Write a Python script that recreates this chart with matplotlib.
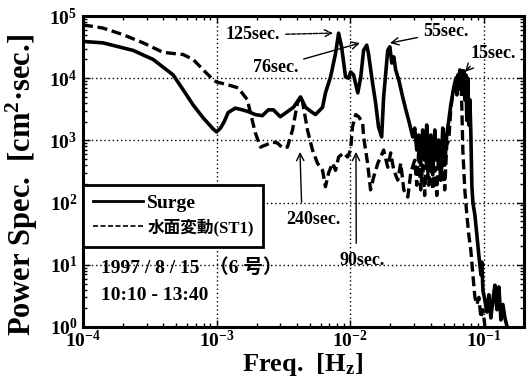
import matplotlib
matplotlib.use("Agg")
import matplotlib.pyplot as plt
from matplotlib.lines import Line2D
import numpy as np

plt.rcParams['font.family'] = ['Liberation Serif', 'Noto Sans CJK JP']
plt.rcParams['font.weight'] = 'bold'
plt.rcParams['axes.labelweight'] = 'bold'
plt.rcParams['mathtext.fontset'] = 'custom'
plt.rcParams['mathtext.rm'] = 'Liberation Serif:bold'
plt.rcParams['mathtext.it'] = 'Liberation Serif:bold:italic'
plt.rcParams['mathtext.bf'] = 'Liberation Serif:bold'
plt.rcParams['mathtext.default'] = 'rm'

# ---- data ----
surge_freq = [1.00e-4, 1.41e-4, 2.37e-4, 3.35e-4, 4.73e-4, 5.62e-4, 6.68e-4, 7.94e-4, 9.44e-4, 1.0e-3,
              1.07e-3, 1.14e-3, 1.22e-3, 1.38e-3, 1.56e-3, 1.73e-3, 1.95e-3, 2.20e-3, 2.44e-3, 2.66e-3,
              3.00e-3, 3.39e-3, 3.76e-3, 4.25e-3, 4.63e-3, 5.22e-3, 5.50e-3, 6.21e-3, 6.53e-3, 7.13e-3,
              7.77e-3, 8.19e-3, 8.62e-3, 9.23e-3, 9.73e-3, 1.007e-2, 1.06e-2, 1.14e-2, 1.20e-2, 1.26e-2,
              1.33e-2, 1.37e-2, 1.47e-2, 1.55e-2, 1.63e-2, 1.72e-2, 1.78e-2, 1.91e-2, 1.98e-2, 2.05e-2,
              2.12e-2, 2.19e-2, 2.31e-2, 2.47e-2, 2.61e-2, 2.74e-2, 2.94e-2, 3.04e-2, 3.15e-2, 3.26e-2,
              3.37e-2, 3.49e-2, 3.61e-2, 3.74e-2, 3.87e-2, 4.01e-2, 4.15e-2, 4.30e-2, 4.45e-2, 4.60e-2,
              4.76e-2, 4.93e-2, 5.10e-2, 5.28e-2, 5.47e-2, 5.66e-2, 5.97e-2, 6.18e-2, 6.29e-2, 6.40e-2,
              6.51e-2, 6.62e-2, 6.73e-2, 6.85e-2, 6.97e-2, 7.09e-2, 7.21e-2, 7.34e-2, 7.47e-2, 7.60e-2,
              7.73e-2, 7.87e-2, 8.00e-2, 8.14e-2, 8.29e-2, 8.58e-2, 8.88e-2, 9.19e-2, 9.52e-2, 9.68e-2,
              9.85e-2, 0.1019, 0.1055, 0.1092, 0.1130, 0.1170, 0.1211, 0.1253, 0.1297, 0.1343,
              0.1390, 0.1439, 0.1489]
surge_power = [3.9e4, 3.7e4, 2.8e4, 2.0e4, 1.13e4, 6.5e3, 3.7e3, 2.3e3, 1.52e3, 1.37e3,
               1.58e3, 2.0e3, 2.8e3, 3.3e3, 3.1e3, 2.9e3, 2.6e3, 2.5e3, 3.1e3, 3.1e3,
               2.4e3, 2.9e3, 3.4e3, 5.0e3, 3.4e3, 2.8e3, 2.6e3, 3.4e3, 5.8e3, 1.05e4,
               2.5e4, 5.3e4, 3.2e4, 1.05e4, 1.0e4, 1.26e4, 1.13e4, 5.8e3, 1.05e4, 2.8e4,
               3.4e4, 2.5e4, 8.4e3, 4.0e3, 1.64e3, 1.14e3, 5.0e3, 2.8e4, 3.2e4, 1.75e4,
               2.2e4, 1.36e4, 9.4e3, 5.0e3, 3.1e3, 2.1e3, 1.14e3, 1.58e3, 7.0e2, 1.22e3,
               4.0e2, 1.47e3, 4.8e2, 1.77e3, 3.3e2, 1.22e3, 2.8e2, 1.47e3, 4.8e2, 1.01e3,
               2.3e2, 1.58e3, 4.0e2, 1.22e3, 2.1e3, 3.7e3, 7.2e3, 1.0e4, 5.4e3, 1.13e4,
               7.8e3, 1.36e4, 6.5e3, 1.31e4, 9.4e3, 1.31e4, 4.5e3, 1.13e4, 2.1e3, 1.0e4,
               1.77e3, 4.5e3, 1.32e3, 1.9e2, 1.0e2, 63, 30, 14, 6.9, 11,
               3.9, 2.7, 1.74, 3.3, 1.4, 2.7, 4.7, 1.9, 4.4, 1.3,
               2.3, 1.4, 1.04]

water_freq = [1.00e-4, 1.41e-4, 2.00e-4, 2.82e-4, 3.98e-4, 5.62e-4, 6.68e-4, 7.94e-4, 9.44e-4, 1.0e-3,
              1.22e-3, 1.45e-3, 1.70e-3, 1.79e-3, 1.95e-3, 2.13e-3, 2.32e-3, 2.62e-3, 2.85e-3, 3.11e-3,
              3.39e-3, 3.70e-3, 4.03e-3, 4.32e-3, 4.47e-3, 4.79e-3, 5.22e-3, 5.69e-3, 6.21e-3, 6.53e-3,
              6.89e-3, 7.38e-3, 7.77e-3, 8.19e-3, 8.92e-3, 9.56e-3, 1.007e-2, 1.04e-2, 1.10e-2, 1.16e-2,
              1.24e-2, 1.26e-2, 1.35e-2, 1.42e-2, 1.50e-2, 1.61e-2, 1.69e-2, 1.78e-2, 1.91e-2, 2.01e-2,
              2.12e-2, 2.27e-2, 2.39e-2, 2.52e-2, 2.70e-2, 2.84e-2, 3.04e-2, 3.15e-2, 3.26e-2, 3.37e-2,
              3.49e-2, 3.61e-2, 3.74e-2, 3.87e-2, 4.01e-2, 4.15e-2, 4.30e-2, 4.45e-2, 4.60e-2, 4.76e-2,
              4.93e-2, 5.10e-2, 5.28e-2, 5.47e-2, 5.66e-2, 5.86e-2, 6.07e-2, 6.29e-2, 6.51e-2, 6.73e-2,
              6.85e-2, 6.97e-2, 7.21e-2, 7.47e-2, 7.73e-2, 8.00e-2, 8.29e-2, 8.58e-2, 8.88e-2, 9.19e-2,
              9.52e-2, 9.85e-2, 0.1019]
water_power = [7.2e4, 6.4e4, 5.0e4, 3.7e4, 2.6e4, 2.4e4, 2.0e4, 1.36e4, 9.4e3, 8.7e3,
               7.8e3, 7.0e3, 4.5e3, 2.8e3, 1.32e3, 7.8e2, 8.4e2, 9.4e2, 9.1e2, 7.6e2,
               7.8e2, 1.47e3, 4.0e3, 5.2e3, 3.4e3, 1.47e3, 7.0e2, 4.3e2, 3.3e2, 1.8e2,
               3.0e2, 4.3e2, 3.3e2, 5.4e2, 6.3e2, 5.4e2, 7.0e2, 1.64e3, 2.6e3, 2.4e3,
               1.9e3, 1.14e3, 4.3e2, 1.6e2, 2.6e2, 4.3e2, 5.4e2, 7.0e2, 3.7e2, 6.3e2,
               3.3e2, 2.3e2, 4.3e2, 1.6e2, 1.23e2, 3.0e2, 4.8e2, 1.9e2, 7.0e2, 1.6e2,
               4.0e2, 1.3e2, 5.8e2, 1.9e2, 4.8e2, 1.6e2, 3.7e2, 1.3e2, 7.0e2, 2.3e2,
               5.4e2, 1.6e2, 8.4e2, 1.01e3, 3.1e3, 5.8e3, 7.8e3, 1.05e4, 6.5e3, 1.21e4,
               3.4e3, 7.0e2, 1.6e2, 63, 30, 17, 6.9, 3.0, 2.3, 3.0,
               1.4, 1.9, 1.04]

series_labels = ['Surge', '水面変動(ST1)']
x_label = 'Freq.  [H$_{z}$]'
y_label = 'Power Spec.  [cm$^{2}$·sec.]'
period_labels = ['125sec.', '76sec.', '55sec.', '15sec.', '240sec.', '90sec.']
date_lines = ['1997 / 8 / 15  （6 号）', '10:10 - 13:40']

# ---- figure ----
fig = plt.figure(figsize=(5.32, 3.78), dpi=100)
ax = fig.add_axes([83/532, 51/378, 441/532, 311/378])

ax.plot(surge_freq, surge_power, color='black', lw=2.6, solid_joinstyle='round')
ax.plot(water_freq, water_power, color='black', lw=2.4, ls=(0, (3, 1.4)))

ax.set_xscale('log')
ax.set_yscale('log')
ax.set_xlim(1e-4, 0.2)
ax.set_ylim(1, 1e5)

ax.grid(which='major', color='black', ls=(0, (1, 2)), lw=1)
for s in ax.spines.values():
    s.set_linewidth(2.2)
ax.tick_params(which='both', direction='in', top=True, right=True, width=1)
ax.tick_params(which='major', length=5, labelsize=14)
ax.tick_params(axis='x', which='major', pad=2)
ax.tick_params(axis='y', which='major', pad=4)
ax.tick_params(which='minor', length=3)

ax.set_xlabel(x_label, fontsize=19)
ax.set_ylabel(y_label, fontsize=22)
ax.xaxis.set_label_coords(0.497, -0.076)
ax.xaxis.label.set_verticalalignment('top')
ax.yaxis.set_label_coords(-0.098, 0.457)

handles = [Line2D([], [], color='black', lw=2),
           Line2D([], [], color='black', lw=1.2, ls=(0, (3, 1.5)))]
leg = ax.legend(handles, series_labels, loc='upper left', bbox_to_anchor=(0.0, 0.457),
                frameon=True, fancybox=False, edgecolor='black', framealpha=1,
                borderaxespad=0, handlelength=2.6, handletextpad=0.2,
                borderpad=0.5, labelspacing=0.35, fontsize=14)
leg.get_frame().set_linewidth(2)
leg.get_texts()[1].set_fontsize(12)

ax.text(0.04, 0.19, date_lines[0], transform=ax.transAxes, fontsize=14, va='center', ha='left')
ax.text(0.04, 0.10, date_lines[1], transform=ax.transAxes, fontsize=14, va='center', ha='left')

ap = dict(arrowstyle='->', color='black', lw=1, shrinkA=2, shrinkB=0)
ax.annotate(period_labels[0], xy=(0.567, 0.945), xytext=(0.447, 0.939), xycoords='axes fraction',
            ha='right', va='center', fontsize=13, arrowprops=dict(ap, ls=(0, (3, 1))))
ax.annotate(period_labels[1], xy=(0.628, 0.913), xytext=(0.488, 0.836), xycoords='axes fraction',
            ha='right', va='center', fontsize=13, arrowprops=ap)
ax.annotate(period_labels[2], xy=(0.696, 0.913), xytext=(0.771, 0.949), xycoords='axes fraction',
            ha='left', va='center', fontsize=13, arrowprops=ap)
ax.annotate(period_labels[3], xy=(0.866, 0.820), xytext=(0.878, 0.881), xycoords='axes fraction',
            ha='left', va='center', fontsize=13, arrowprops=dict(ap, relpos=(0.1, 0.0)))
ax.annotate(period_labels[4], xy=(0.492, 0.563), xytext=(0.522, 0.347), xycoords='axes fraction',
            ha='center', va='center', fontsize=13, arrowprops=dict(ap, relpos=(0.29, 1.0), shrinkA=4))
ax.annotate(period_labels[5], xy=(0.619, 0.563), xytext=(0.633, 0.215), xycoords='axes fraction',
            ha='center', va='center', fontsize=13, arrowprops=dict(ap, relpos=(0.37, 1.0), shrinkA=4))

fig.savefig('out.png', dpi=100)
